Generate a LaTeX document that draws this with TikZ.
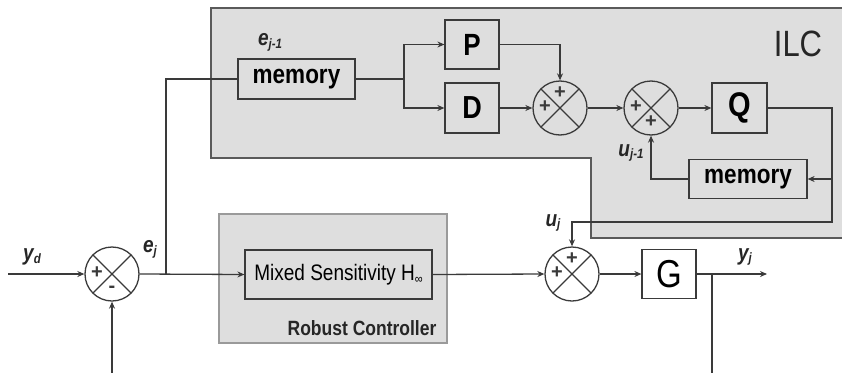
\documentclass[tikz,border=0pt]{standalone}
\usepackage{fontspec}
\setmainfont{Liberation Sans}
\usetikzlibrary{arrows.meta}
\definecolor{bgfill}{HTML}{DEDEDE}
\definecolor{lncol}{HTML}{3A3A3A}
\definecolor{ilcborder}{HTML}{5A5A5A}
\definecolor{rcborder}{HTML}{9A9A9A}
\newcommand{\fs}[1]{\fontsize{#1}{#1}\selectfont}
\newcommand{\tall}[1]{\scalebox{1}[1.18]{#1}}
\newcommand{\sig}[2]{\tall{\bfseries\itshape\fs{19}#1\raisebox{-2.5pt}{\fs{11.5}#2}}}
\tikzset{
  conn/.style={draw=lncol, line width=1.3pt},
  arr/.style={conn, -{Stealth[length=7pt,width=6pt]}},
  blockbox/.style={draw=lncol, line width=1.2pt, fill=bgfill, inner sep=0pt, anchor=center},
  sumnode/.style={circle, draw=lncol, line width=1.3pt, minimum size=54pt, inner sep=0pt, fill=white,
    path picture={\draw[lncol, line width=1.2pt]
      (path picture bounding box.north west) -- (path picture bounding box.south east)
      (path picture bounding box.north east) -- (path picture bounding box.south west);}},
  sumgray/.style={sumnode, fill=bgfill},
  signlab/.style={font=\bfseries\fs{20}, inner sep=0pt, text=lncol},
  siglab/.style={inner sep=0pt, text=black!85},
}
\begin{document}
\begin{tikzpicture}[x=1pt,y=-1pt]
\useasboundingbox (0,0) rectangle (842,372);
\clip (0,0) rectangle (842,372);
% regions
\path[fill=bgfill, draw=ilcborder, line width=1.8pt]
  (211,8) -- (846,8) -- (846,238) -- (591,238) -- (591,158) -- (211,158) -- cycle;
\path[fill=bgfill, draw=rcborder, line width=1.2pt] (219,214) rectangle (447,343);
\node[font=\fs{31}, text=black!85] (ilclab) at (798,44) {\tall{ILC}};
\node[font=\bfseries\fs{17.5}, text=black!85] (rclab) at (362,328) {\tall{Robust Controller}};
% blocks
\node[blockbox, minimum width=117pt, minimum height=40pt, font=\bfseries\fs{22.5}] (mem1) at (296.5,79) {\tall{memory}};
\node[blockbox, minimum width=54pt, minimum height=49pt, font=\bfseries\fs{26}] (P) at (472,44.5) {\tall{P}};
\node[blockbox, minimum width=54pt, minimum height=50pt, font=\bfseries\fs{27}] (D) at (472,108) {\tall{D}};
\node[blockbox, minimum width=55pt, minimum height=50pt, font=\bfseries\fs{29}] (Q) at (739.5,108) {\tall{Q}};
\node[blockbox, minimum width=118pt, minimum height=39pt, font=\bfseries\fs{22.5}] (mem2) at (748,179) {\tall{memory}};
\node[blockbox, fill=white, minimum width=54pt, minimum height=49pt, font=\fs{33}] (G) at (669,274) {\tall{G}};
\node[blockbox, minimum width=187pt, minimum height=49pt, font=\fs{19}] (mix) at (338.5,274.5) {\tall{Mixed Sensitivity H\raisebox{-3pt}{\fs{11}∞}}};
% sums
\node[sumnode] (s0) at (112,274) {};
\node[sumgray] (s1) at (560,108) {};
\node[sumgray] (s2) at (651,108) {};
\node[sumnode] (s3) at (572,274) {};
\node[signlab] at ([xshift=-15pt,yshift=1pt]s0.center) {+};
\node[signlab] at ([yshift=-15pt]s0.center) {-};
\node[signlab] at ([xshift=-15pt,yshift=1pt]s1.center) {+};
\node[signlab] at ([yshift=15pt]s1.center) {+};
\node[signlab] at ([xshift=-15pt,yshift=1pt]s2.center) {+};
\node[signlab] at ([yshift=-14pt]s2.center) {+};
\node[signlab] at ([xshift=-15pt,yshift=1pt]s3.center) {+};
\node[signlab] at ([yshift=15pt]s3.center) {+};
% signal labels
\node[siglab] (lejm) at (270,42) {\sig{e}{j-1}};
\node[siglab] (lej) at (150,249) {\sig{e}{j}};
\node[siglab] (lyd) at (32,257) {\sig{y}{d}};
\node[siglab] (lujm) at (631,153) {\sig{u}{j-1}};
\node[siglab] (luj) at (553,223) {\sig{u}{j}};
\node[siglab] (lyj) at (745,257) {\sig{y}{j}};
% coordinates
\coordinate (yin) at (8,274);
\coordinate (ej) at (166,274);
\coordinate (ejtop) at (166,79);
\coordinate (br) at (404,79);
\coordinate (yout) at (767,274);
\coordinate (fbtap) at (712,274);
\coordinate (fbbot) at (712,373);
\coordinate (fbin) at (112,373);
\coordinate (qr) at (832,108);
\coordinate (qmem) at (832,179);
\coordinate (qbot) at (832,222);
\coordinate (ujc) at (572,222);
% connectors
\draw[arr] (yin) -- (s0.west);
\draw[arr] (s0.east) -- (mix.west);
\draw[conn] (ej) -- (ejtop) -- (mem1.west);
\draw[conn] (mem1.east) -- (br);
\draw[arr] (br) |- (P.west);
\draw[arr] (br) |- (D.west);
\draw[arr] (P.east) -| (s1.north);
\draw[arr] (D.east) -- (s1.west);
\draw[arr] (s1.east) -- (s2.west);
\draw[arr] (s2.east) -- (Q.west);
\draw[arr] (Q.east) -- (qr) -- (qbot) -- (ujc) -- (s3.north);
\draw[arr] (qmem) -- (mem2.east);
\draw[arr] (mem2.west) -| (s2.south);
\draw[arr] (mix.east) -- (s3.west);
\draw[arr] (s3.east) -- (G.west);
\draw[arr] (G.east) -- (yout);
\draw[conn] (fbtap) -- (fbbot);
\draw[arr] (fbin) -- (s0.south);
\end{tikzpicture}
\end{document}
